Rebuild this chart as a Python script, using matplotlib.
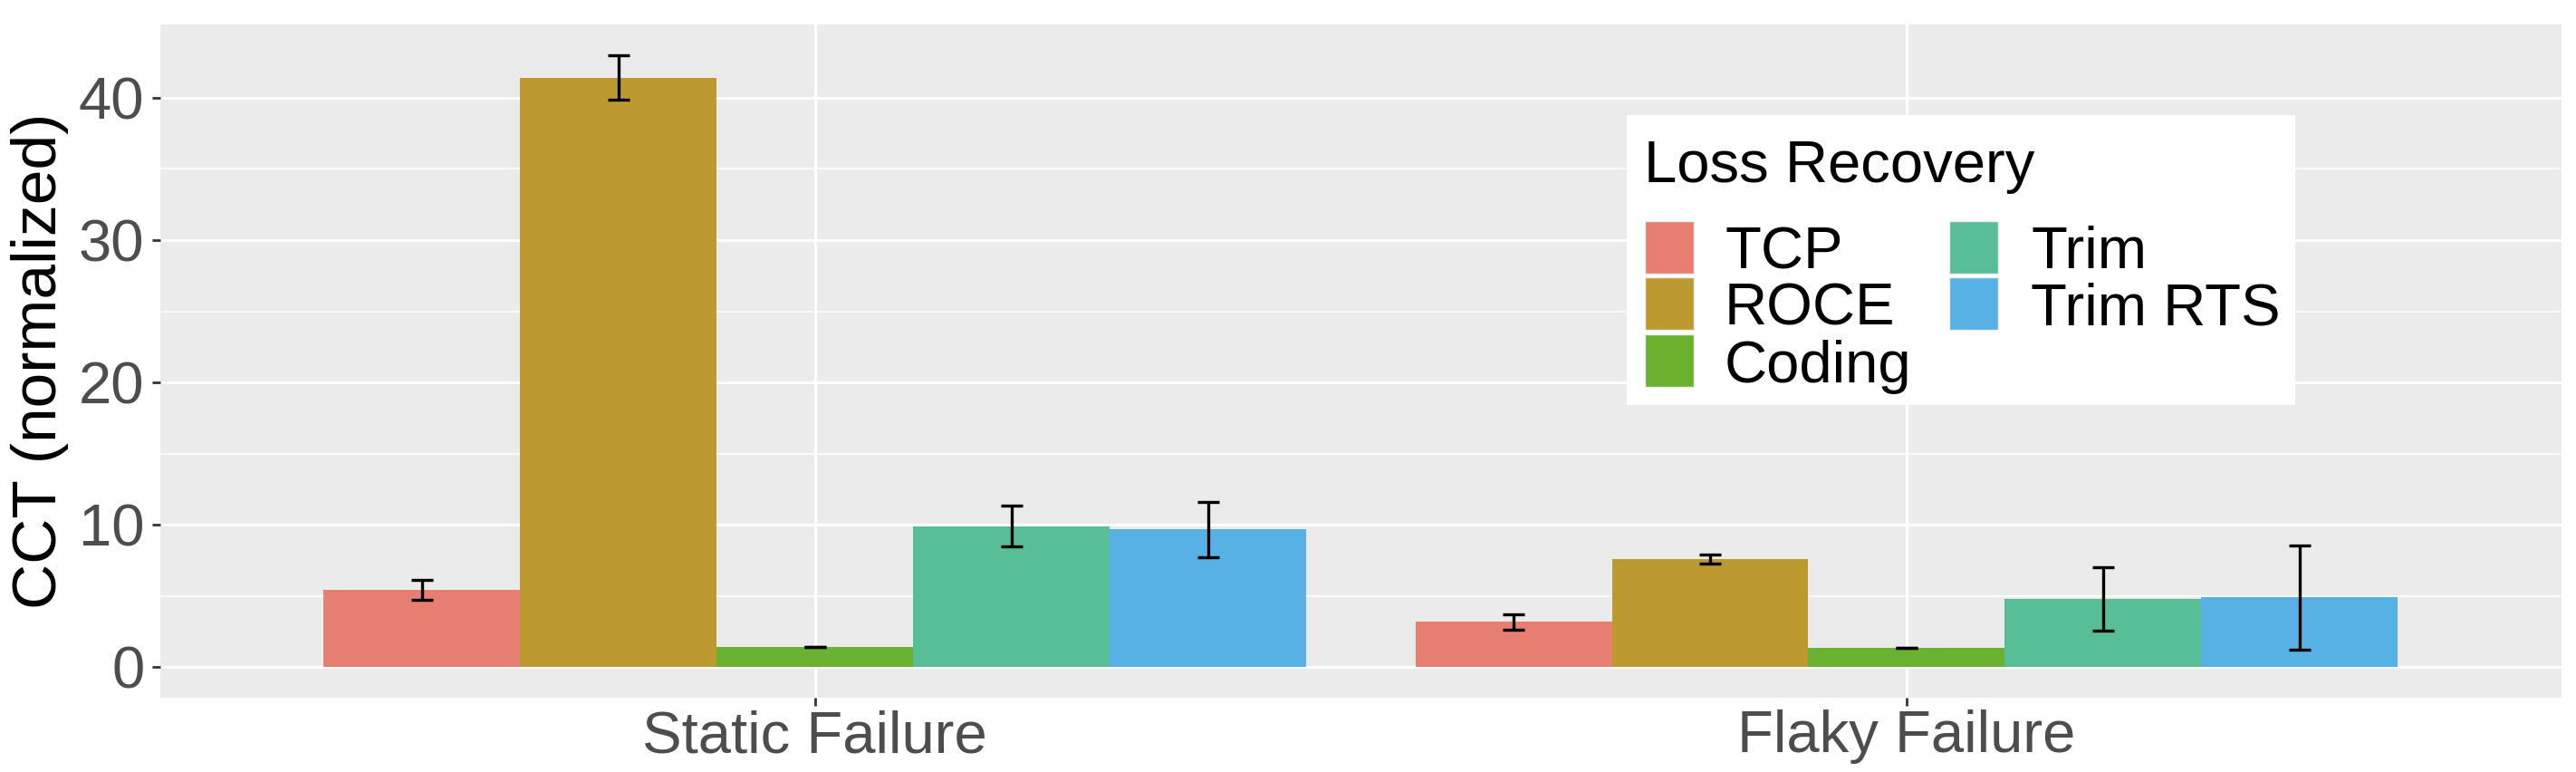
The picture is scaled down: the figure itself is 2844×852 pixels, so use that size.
import matplotlib
matplotlib.use("Agg")
import matplotlib.pyplot as plt
from matplotlib.patches import Rectangle
import numpy as np

plt.rcParams['font.family'] = ['Liberation Sans', 'DejaVu Sans']

categories = ["Static Failure", "Flaky Failure"]
methods = ["TCP", "ROCE", "Coding", "Trim", "Trim RTS"]
colors = ["#E67F72", "#BC9A2F", "#6AB130", "#57BE97", "#58B1E5"]

means = {
    "TCP":      [5.43, 3.17],
    "ROCE":     [41.4, 7.58],
    "Coding":   [1.42, 1.34],
    "Trim":     [9.90, 4.76],
    "Trim RTS": [9.66, 4.91],
}
err_low = {
    "TCP":      [4.75, 2.63],
    "ROCE":     [39.84, 7.27],
    "Coding":   [1.40, 1.32],
    "Trim":     [8.48, 2.55],
    "Trim RTS": [7.74, 1.25],
}
err_high = {
    "TCP":      [6.14, 3.72],
    "ROCE":     [43.0, 7.92],
    "Coding":   [1.44, 1.37],
    "Trim":     [11.35, 6.99],
    "Trim RTS": [11.63, 8.56],
}
yticks = [0, 10, 20, 30, 40]
minor_ticks = [5, 15, 25, 35]

W, H = 2844, 852
fig = plt.figure(figsize=(W / 100, H / 100), dpi=100)
ax = fig.add_axes([176.7 / W, 1 - 770 / H, (2828 - 176.7) / W, (770 - 27) / H])
ax.set_facecolor("#EBEBEB")

x = np.arange(1, len(categories) + 1)
bw = 0.9 / len(methods)
for i, (m, c) in enumerate(zip(methods, colors)):
    pos = x + (i - 2) * bw
    vals = np.array(means[m])
    lo = np.array(err_low[m])
    hi = np.array(err_high[m])
    ax.bar(pos, vals, width=bw, color=c, zorder=2, linewidth=0)
    ax.errorbar(pos, (lo + hi) / 2, yerr=(hi - lo) / 2, fmt='none', ecolor='black',
                elinewidth=2.4, capsize=8.6, capthick=2.4, zorder=3)

ax.set_xlim(0.4, 2.6)
ax.set_ylim(-2.15, 45.15)
ax.set_yticks(yticks)
ax.set_yticks(minor_ticks, minor=True)
ax.set_xticks(x)
ax.set_xticklabels(categories)
ax.grid(True, which='major', color='white', linewidth=2.2, zorder=0)
ax.grid(True, which='minor', axis='y', color='white', linewidth=1.1, zorder=0)
ax.set_axisbelow(True)
for s in ax.spines.values():
    s.set_visible(False)
ax.tick_params(axis='both', which='major', length=6.5, width=2, color='#333333',
               labelsize=47, labelcolor='#4D4D4D', pad=6)
ax.tick_params(axis='x', pad=3)
ax.tick_params(axis='y', which='minor', length=0)
ax.set_ylabel("CCT (normalized)", fontsize=50, color='black', labelpad=8)

# legend drawn in figure pixel coordinates
def fx(px):
    return px / W

def fy(py):
    return 1 - py / H

fig.patches.append(Rectangle((fx(1796), fy(447)), fx(2534) - fx(1796), fy(127) - fy(447),
                             transform=fig.transFigure, facecolor='white', edgecolor='none', zorder=5))
fig.text(fx(1815), fy(201), "Loss Recovery", fontsize=47, color='black', va='baseline', ha='left', zorder=6)
row_centers = [272.5, 335, 397.5]
col_key_x = [1816, 2152]
col_text_x = [1904, 2242]
for i, (m, c) in enumerate(zip(methods, colors)):
    col = 0 if i < 3 else 1
    row = i if i < 3 else i - 3
    cy = row_centers[row]
    kx = col_key_x[col]
    fig.patches.append(Rectangle((fx(kx), fy(cy + 29)), fx(54), 58 / H,
                                 transform=fig.transFigure, facecolor=c,
                                 edgecolor='#EEEEEE', linewidth=1, zorder=6))
    fig.text(fx(col_text_x[col]), fy(cy + 24), m, fontsize=47, color='black',
             va='baseline', ha='left', zorder=7)

fig.savefig("out.png", dpi=100)
